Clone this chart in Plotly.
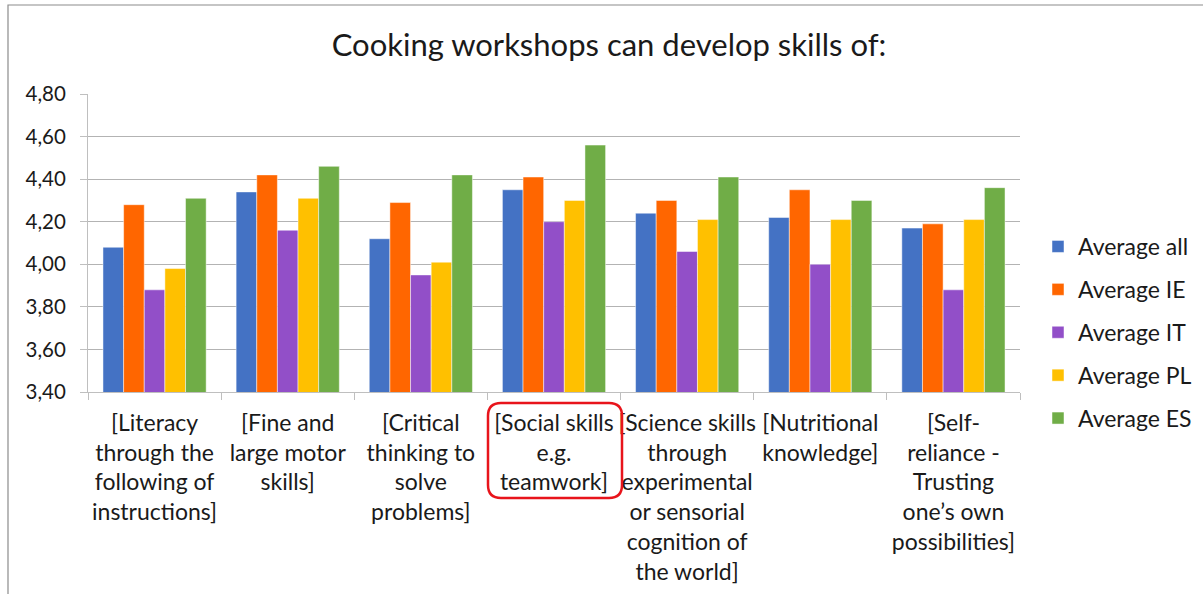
import plotly.graph_objects as go

categories = [
    "[Literacy<br>through the<br>following of<br>instructions]",
    "[Fine and<br>large motor<br>skills]",
    "[Critical<br>thinking to<br>solve<br>problems]",
    "[Social skills<br>e.g.<br>teamwork]",
    "[Science skills<br>through<br>experimental<br>or sensorial<br>cognition of<br>the world]",
    "[Nutritional<br>knowledge]",
    "[Self-<br>reliance -<br>Trusting<br>one\u2019s own<br>possibilities]",
]
avg_all = [4.08, 4.34, 4.12, 4.35, 4.24, 4.22, 4.17]
avg_ie = [4.28, 4.42, 4.29, 4.41, 4.30, 4.35, 4.19]
avg_it = [3.88, 4.16, 3.95, 4.20, 4.06, 4.00, 3.88]
avg_pl = [3.98, 4.31, 4.01, 4.30, 4.21, 4.21, 4.21]
avg_es = [4.31, 4.46, 4.42, 4.56, 4.41, 4.30, 4.36]

series_names = ["Average all", "Average IE", "Average IT", "Average PL", "Average ES"]
series_values = [avg_all, avg_ie, avg_it, avg_pl, avg_es]
colors = ["#4472C4", "#FF6600", "#924FC8", "#FFC000", "#70AD47"]
y_ticks = [3.40, 3.60, 3.80, 4.00, 4.20, 4.40, 4.60, 4.80]

FONT = "Lato, 'Open Sans', sans-serif"
TXT = "#1a1a1a"

fig = go.Figure()
for i, (name, vals, col) in enumerate(zip(series_names, series_values, colors)):
    fig.add_trace(go.Bar(
        x=categories, y=vals, name=name,
        marker=dict(color=col, line=dict(color="rgba(255,255,255,0.6)", width=0.8)),
        legendgroup=f"g{i}",
    ))

W, H = 1203, 594
L, R, T, B = 88, 1020, 94, 392
pw, ph = R - L, B - T

def px(x):
    return (x - L) / pw

def py(y):
    return (B - y) / ph

# rounded red rectangle around "Social skills" label
x0, x1, y0, y1 = 488, 622, 403, 498
r = 13
rx, ry = r / pw, r / ph
X0, X1, Ytop, Ybot = px(x0), px(x1), py(y0), py(y1)
path = (
    f"M {X0+rx},{Ytop} L {X1-rx},{Ytop} Q {X1},{Ytop} {X1},{Ytop-ry} "
    f"L {X1},{Ybot+ry} Q {X1},{Ybot} {X1-rx},{Ybot} "
    f"L {X0+rx},{Ybot} Q {X0},{Ybot} {X0},{Ybot+ry} "
    f"L {X0},{Ytop-ry} Q {X0},{Ytop} {X0+rx},{Ytop} Z"
)

fig.update_layout(
    width=W, height=H,
    barmode="group", bargap=0.225, bargroupgap=0,
    plot_bgcolor="white", paper_bgcolor="white",
    separators=", ",
    font=dict(family=FONT, size=23, color=TXT),
    title=dict(text="Cooking workshops can develop skills of:", x=609 / W, xanchor="center",
               y=1 - 45 / H, yanchor="middle", font=dict(family=FONT, size=31, color=TXT)),
    margin=dict(l=L, r=W - R, t=T, b=H - B, pad=0, autoexpand=False),
    legend=dict(xref="container", x=1038 / W, xanchor="left",
                yref="container", y=1 - 225 / H, yanchor="top",
                font=dict(family=FONT, size=23, color=TXT),
                tracegroupgap=10, itemwidth=30, bgcolor="rgba(0,0,0,0)"),
    xaxis=dict(showline=True, linecolor="#bfbfbf", linewidth=1, automargin=False,
               ticks="outside", tickson="boundaries", ticklen=7, tickcolor="#bfbfbf",
               tickangle=0, showgrid=False, fixedrange=True, ticklabelstandoff=10,
               tickfont=dict(family=FONT, size=23, color=TXT)),
    yaxis=dict(range=[3.40, 4.80], tickvals=y_ticks, tickformat=".2f", automargin=False,
               showline=True, linecolor="#bfbfbf", linewidth=1,
               ticks="outside", ticklen=7, tickcolor="#bfbfbf", ticklabelstandoff=10,
               showgrid=True, gridcolor="#b3b3b3", gridwidth=1, zeroline=False,
               tickfont=dict(family=FONT, size=20.5, color=TXT)),
    shapes=[
        dict(type="path", xref="paper", yref="paper", path=path,
             line=dict(color="#E8141B", width=2.5)),
        dict(type="rect", xref="paper", yref="paper",
             x0=px(8), x1=px(1230), y0=py(620), y1=py(5),
             line=dict(color="#8c8c8c", width=1.2), layer="below"),
    ],
)

fig.write_html("out.html", config={"displayModeBar": False},
               post_script="document.body.style.margin='0';document.body.style.padding='0';")
